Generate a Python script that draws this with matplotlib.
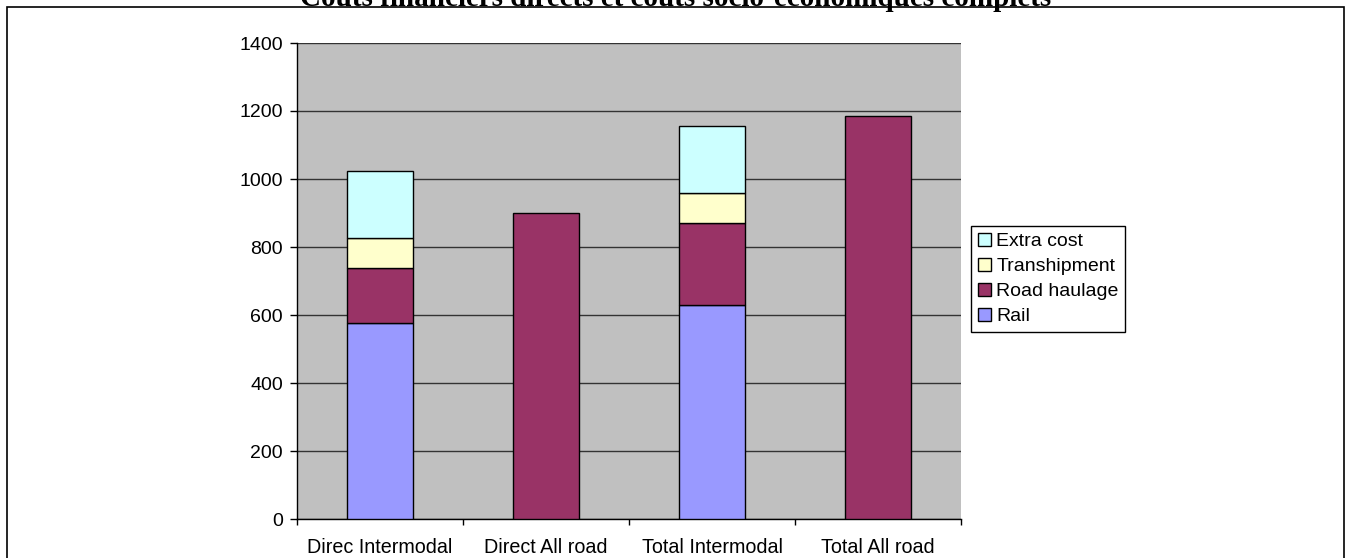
import numpy as np
import matplotlib.pyplot as plt
from matplotlib.patches import Rectangle

# data
categories = ['Direc Intermodal', 'Direct All road', 'Total Intermodal', 'Total All road']
rail = [576, 0, 628, 0]
road = [161, 899, 242, 1184]
tranship = [90, 0, 90, 0]
extra = [196, 0, 197, 0]

series = [('Rail', rail, '#9999FF'),
          ('Road haulage', road, '#993366'),
          ('Transhipment', tranship, '#FFFFCC'),
          ('Extra cost', extra, '#CCFFFF')]

plt.rcParams['font.family'] = ['Liberation Sans', 'DejaVu Sans']

fig = plt.figure(figsize=(13.51, 5.58), dpi=100)
ax = fig.add_axes([297 / 1351, 39 / 558, 664 / 1351, 476 / 558])
ax.set_facecolor('#C0C0C0')

x = np.arange(len(categories))
bottom = np.zeros(len(categories))
handles = []
for name, vals, col in series:
    vals = np.array(vals, dtype=float)
    m = vals > 0
    bars = ax.bar(x[m], vals[m], width=0.4, bottom=bottom[m], color=col,
                  edgecolor='black', linewidth=1.0, zorder=3, label=name)
    handles.append(bars)
    bottom += vals

ax.set_xlim(-0.5, len(categories) - 0.5)
ax.set_ylim(0, 1400)
ax.set_yticks(np.arange(0, 1401, 200))
ax.yaxis.grid(True, color='#333333', linewidth=1.0, zorder=1)
ax.set_axisbelow(True)

ax.set_xticks(x)
ax.set_xticklabels(categories, fontsize=14.2)
ax.tick_params(axis='x', which='major', length=0, pad=14)
ax.set_xticks(np.arange(-0.5, len(categories), 1.0), minor=True)
ax.tick_params(axis='x', which='minor', length=4.5, width=1, color='black')
ax.tick_params(axis='y', labelsize=14, length=5, width=1, pad=5)

for s in ['top', 'right']:
    ax.spines[s].set_visible(False)
for s in ['left', 'bottom']:
    ax.spines[s].set_linewidth(1.0)
    ax.spines[s].set_color('black')

leg = fig.legend(handles[::-1], [s[0] for s in series][::-1],
                 loc='upper left', bbox_to_anchor=(971 / 1351, 1 - 226 / 558),
                 fontsize=14, frameon=True, fancybox=False, framealpha=1,
                 edgecolor='black', handlelength=0.7, handleheight=0.7,
                 handletextpad=0.25, labelspacing=0.38, borderpad=0.35,
                 borderaxespad=0)
leg.get_frame().set_linewidth(1.0)

# title, clipped at the top like the original
fig.text(0.5, 1 - 6 / 558, 'Coûts financiers directs et coûts socio-économiques complets',
         ha='center', va='baseline', fontsize=21, fontweight='bold',
         family=['Liberation Serif', 'DejaVu Serif'])

# outer border
fig.patches.append(Rectangle((7 / 1351, -0.05), 1337 / 1351, 1.05 - 7 / 558,
                             transform=fig.transFigure, fill=False,
                             edgecolor='black', linewidth=1.2, zorder=10))

fig.savefig('out.png', dpi=100)
